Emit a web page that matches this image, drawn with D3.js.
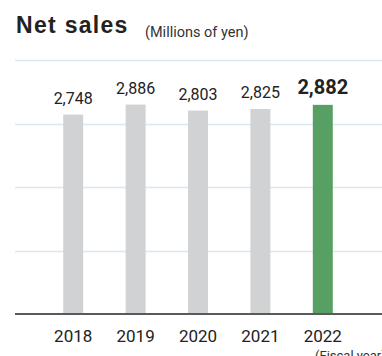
<!DOCTYPE html>
<html>
<head>
<meta charset="utf-8">
<script src="https://cdn.jsdelivr.net/npm/d3@7"></script>
<style>
  html, body { margin: 0; padding: 0; background: #fff; }
  svg { display: block; }
</style>
</head>
<body>
<svg id="chart" width="382" height="356"></svg>
<script>
// Net sales by fiscal year, millions of yen
const years = ["2018", "2019", "2020", "2021", "2022"];
const sales = [2748, 2886, 2803, 2825, 2882];
const gridTicks = [0, 875, 1750, 2625, 3500];

const W = 382, H = 356;
const plot = { left: 15, right: 382, top: 60, bottom: 314 };

const svg = d3.select("#chart");

const x = d3.scaleBand()
  .domain(years)
  .range([42, 354])
  .paddingInner(0.68)
  .paddingOuter(0.34);

const y = d3.scaleLinear()
  .domain([0, 3500])
  .range([plot.bottom, plot.top]);

// Title
svg.append("text")
  .attr("x", 16)
  .attr("y", 33)
  .attr("font-family", "'Liberation Sans', Arial, sans-serif")
  .attr("font-weight", 700)
  .attr("font-size", 23)
  .attr("letter-spacing", 1.3)
  .attr("fill", "#222")
  .text("Net sales");

svg.append("text")
  .attr("x", 145)
  .attr("y", 37)
  .attr("font-family", "Roboto, sans-serif")
  .attr("font-size", 14.5)
  .attr("fill", "#333")
  .text("(Millions of yen)");

// Horizontal gridlines
svg.append("g")
  .selectAll("line")
  .data(gridTicks.slice(1))
  .join("line")
  .attr("x1", plot.left)
  .attr("x2", plot.right)
  .attr("y1", d => Math.round(y(d)) + 0.5)
  .attr("y2", d => Math.round(y(d)) + 0.5)
  .attr("stroke", "#d8e8f0")
  .attr("stroke-width", 1.5);

// Bars
svg.append("g")
  .selectAll("rect")
  .data(years.map((yr, i) => ({ yr, v: sales[i], last: i === years.length - 1 })))
  .join("rect")
  .attr("x", d => x(d.yr))
  .attr("width", x.bandwidth())
  .attr("y", d => y(d.v))
  .attr("height", d => y(0) - y(d.v))
  .attr("fill", d => d.last ? "#579f63" : "#d1d2d4");

// Value labels
svg.append("g")
  .selectAll("text")
  .data(years.map((yr, i) => ({ yr, v: sales[i], last: i === years.length - 1 })))
  .join("text")
  .attr("x", d => x(d.yr) + x.bandwidth() / 2)
  .attr("y", d => y(d.v) - 11)
  .attr("text-anchor", "middle")
  .attr("font-family", "Roboto, sans-serif")
  .attr("font-size", d => d.last ? 20 : 16)
  .attr("font-weight", d => d.last ? 700 : 400)
  .attr("fill", "#222")
  .text(d => d3.format(",")(d.v));

// Baseline and year axis
const xAxis = svg.append("g")
  .attr("transform", `translate(0,${plot.bottom})`)
  .call(d3.axisBottom(x).tickSize(0).tickPadding(0));
xAxis.select(".domain").remove();
xAxis.selectAll("text")
  .attr("y", 28)
  .attr("dy", 0)
  .attr("font-family", "Roboto, sans-serif")
  .attr("font-size", 17)
  .attr("fill", "#222");

svg.append("line")
  .attr("x1", plot.left)
  .attr("x2", plot.right)
  .attr("y1", plot.bottom)
  .attr("y2", plot.bottom)
  .attr("stroke", "#5a5a5a")
  .attr("stroke-width", 2);

svg.append("text")
  .attr("x", 315)
  .attr("y", 360)
  .attr("font-family", "Roboto, sans-serif")
  .attr("font-size", 13)
  .attr("fill", "#333")
  .text("(Fiscal year)");
</script>
</body>
</html>
